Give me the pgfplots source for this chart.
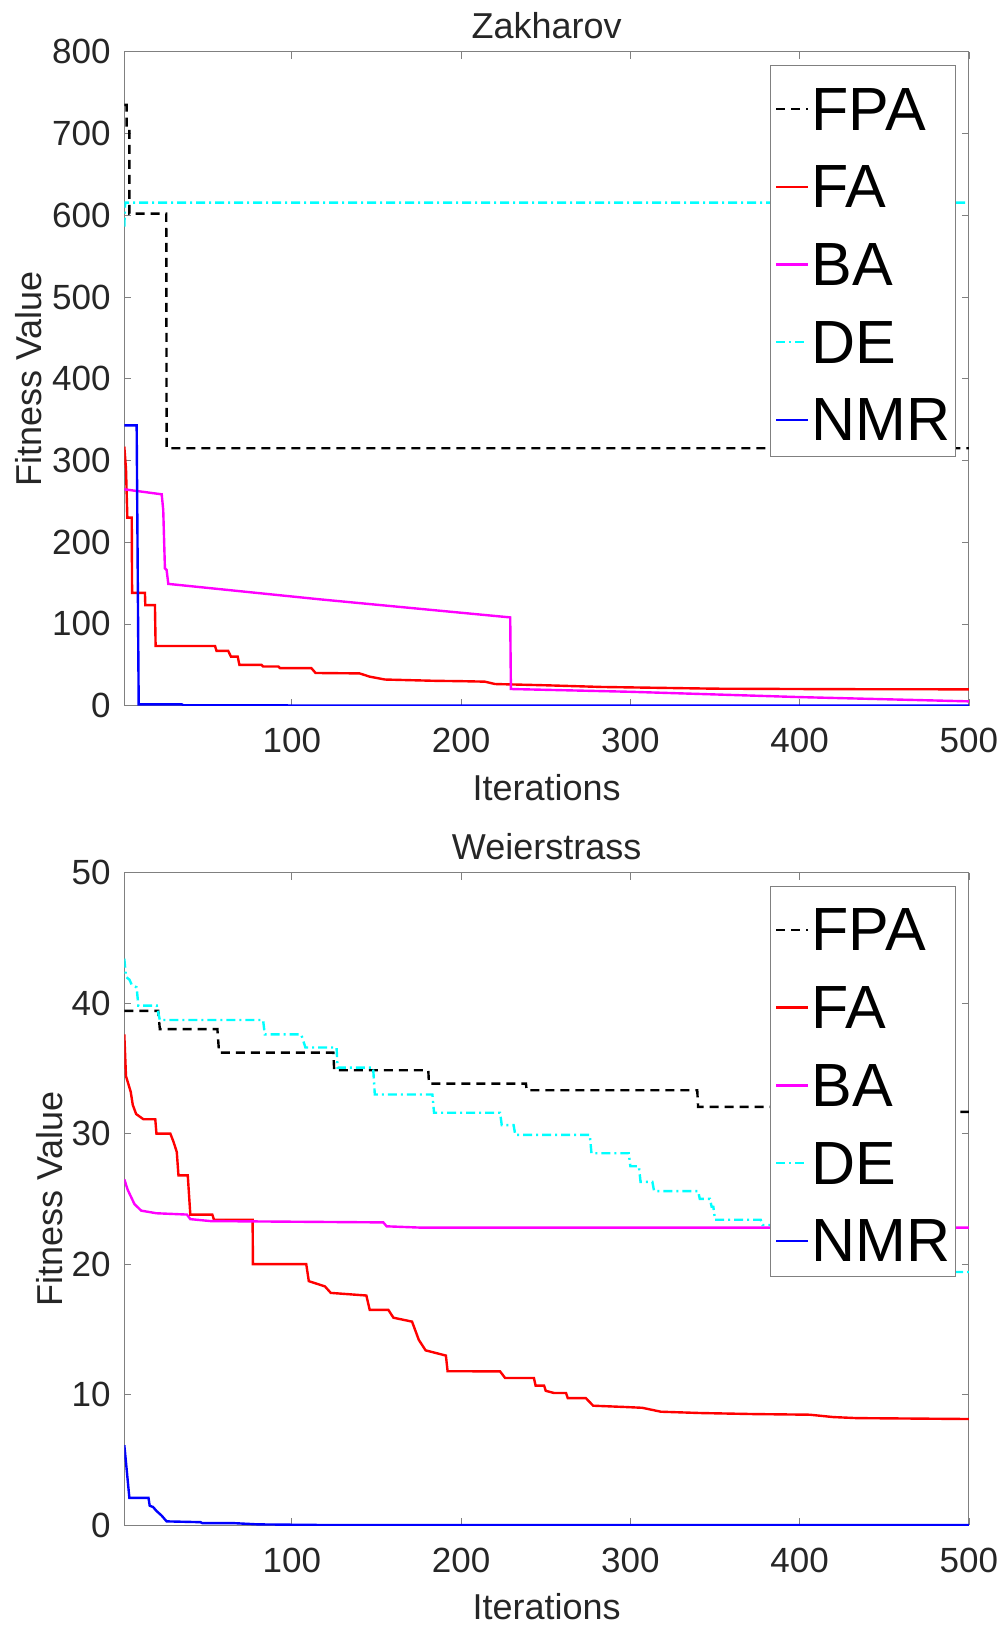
\documentclass[border=0pt]{standalone}
\usepackage{fontspec}
\setmainfont{Liberation Sans}
\usepackage{pgfplots}
\pgfplotsset{compat=1.18}
\definecolor{axgray}{gray}{0.5}
\definecolor{txtgray}{gray}{0.15}
\definecolor{mred}{rgb}{1,0,0}
\definecolor{mmag}{rgb}{1,0,1}
\definecolor{mcyan}{rgb}{0,1,1}
\definecolor{mblue}{rgb}{0,0,1}
\pgfplotsset{
  every axis title shift=0pt,
  mystyle/.style={
    scale only axis, width=422.3pt,
    xmin=1, xmax=500, xtick={100,200,300,400,500},
    tick align=inside, major tick length=3.5pt,
    tick style={axgray, line width=0.4pt},
    axis line style={axgray, line width=0.5pt},
    ticklabel style={font=\fontsize{17.5}{21}\selectfont, text=txtgray, inner sep=0pt},
    xticklabel style={yshift=-11pt},
    yticklabel style={xshift=-6.65pt},
    /pgf/number format/assume math mode=true,
    label style={font=\fontsize{18}{21}\selectfont, text=txtgray, inner sep=0pt},
    title style={font=\fontsize{18}{21}\selectfont, text=txtgray, at={(axis description cs:0.5,1)}, anchor=base, yshift=6.4pt, inner sep=0pt},
    xlabel style={at={(axis description cs:0.5,0)}, anchor=base, yshift=-47.2pt},
    legend style={at={(axis description cs:1,1)}, anchor=north east, xshift=-6.8pt, yshift=-6.65pt,
      draw=axgray, fill=white,
      inner xsep=2.2pt, inner ysep=7.5pt,
      font=\fontsize{30.5}{30.5}\selectfont,
      row sep=14pt, column sep=1.2pt,
      nodes={inner sep=0pt, text height=24.85pt, text depth=0pt},
      cells={anchor=base west}},
    legend image code/.code={\draw[#1] (0pt,10.5pt) -- (15.8pt,10.5pt);},
  },
  fpa/.style={black, line width=1.2pt, dash pattern=on 4.5pt off 3pt},
  fa/.style={mred, line width=1.2pt},
  ba/.style={mmag, line width=1.2pt},
  de/.style={mcyan, line width=1.2pt, dash pattern=on 4.5pt off 2pt on 1pt off 2pt},
  nmr/.style={mblue, line width=1.2pt},
}
\begin{document}
\begin{tikzpicture}[x=1pt,y=1pt]
\path[use as bounding box] (0,0) rectangle (502,812.5);
\begin{axis}[mystyle, height=326.95pt, at={(62.15pt,459.65pt)}, anchor=south west,
  ymin=0, ymax=800, ytick={0,100,...,800},
  title={Zakharov}, xlabel={Iterations}, ylabel={Fitness Value},
  ylabel style={at={(axis description cs:-0.1127,0.5)}, anchor=center}]
\addplot[fpa] coordinates {(1,735) (2.4,735) (2.4,703) (4,703) (4,602) (25.8,602) (26,315) (500,315)};
\addplot[fa] coordinates {(1,317) (2,290) (2.8,230) (5.4,230) (5.6,138) (13.2,138) (13.4,123) (19.1,123) (19.5,73) (54.6,73) (55.5,67) (62.4,67) (64,60) (68,60) (69,50) (82,50) (83,48) (92,48) (93,46) (111.5,46) (114,40) (140,39.5) (146,35.5) (155,32) (185,30.4) (200,30) (214,29.4) (220,26.5) (251,24.9) (283,22.9) (350,20.8) (420,20.2) (500,20)};
\addplot[ba] coordinates {(1,264.7) (23.1,258.6) (24,239.5) (25,168) (26,166) (27,149) (116.6,130.1) (229,108) (229.4,20.4) (300,17) (400,10.5) (500,5.3)};
\addplot[de] coordinates {(1,586) (1.5,615.5) (500,615.5)};
\addplot[nmr] coordinates {(1,343) (8.3,343) (9.5,1.6) (35,1.6) (36,0.3) (500,0.2)};
\legend{FPA,FA,BA,DE,NMR}
\end{axis}
\begin{axis}[mystyle, height=326.4pt, at={(62.15pt,49.85pt)}, anchor=south west,
  ymin=0, ymax=50, ytick={0,10,...,50},
  title={Weierstrass}, xlabel={Iterations}, ylabel={Fitness Value},
  ylabel style={at={(axis description cs:-0.0883,0.5)}, anchor=center}]
\addplot[fpa] coordinates {(1,39.4) (21,39.4) (22,38.0) (56,38.0) (57,36.2) (124.5,36.2) (125,34.85) (180.6,34.85) (181,33.83) (238.3,33.83) (238.7,33.32) (339.5,33.32) (340,32.05) (450,32.05) (450.5,31.67) (500,31.67)};
\addplot[fa] coordinates {(1,37.6) (2,34.4) (4.8,33.2) (6,32.2) (8,31.5) (12.3,31.1) (19.3,31.1) (20,30.0) (28.2,30.0) (30,29.4) (32,28.6) (33,26.8) (38.5,26.8) (40,23.8) (53,23.8) (54,23.4) (76.8,23.4) (77,20.0) (108.5,20.0) (110,18.7) (119.5,18.3) (123,17.8) (144,17.6) (146,16.5) (157,16.5) (160,15.9) (171,15.6) (175,14.2) (179,13.4) (191,13.0) (192,11.8) (223,11.79) (226,11.28) (243,11.28) (244,10.7) (249,10.7) (250,10.3) (255,10.13) (262,10.13) (263,9.74) (273.7,9.74) (278,9.16) (297,9.06) (307,9.0) (318,8.7) (341,8.6) (372.5,8.52) (406,8.47) (419.8,8.29) (433.6,8.21) (500,8.14)};
\addplot[ba] coordinates {(1,26.5) (3,25.7) (7,24.6) (11,24.1) (20,23.9) (38,23.8) (40,23.45) (52,23.3) (154,23.2) (156,22.9) (176,22.8) (500,22.8)};
\addplot[de] coordinates {(1,43.4) (2,42.0) (4,41.8) (5.4,41.4) (8.3,41.2) (9.3,39.8) (20.2,39.8) (22,38.7) (83,38.7) (84,37.6) (105.5,37.6) (108,36.6) (126.4,36.6) (127,35.05) (148,35.05) (149,33.0) (183,33.0) (184,31.6) (223,31.6) (224,30.65) (231,30.65) (232,29.9) (276,29.9) (277,28.5) (299,28.5) (300,27.5) (305,27.5) (306,26.3) (313,26.3) (314,25.6) (340,25.6) (341,25.0) (347,25.0) (348,24.4) (349,24.4) (350,23.4) (377,23.4) (378,23.0) (390,23.0) (391,22.0) (420,22.0) (421,20.5) (450,20.5) (451,19.4) (500,19.4)};
\addplot[nmr] coordinates {(1,6.14) (1.5,5.5) (4,2.1) (15.3,2.1) (16,1.5) (18,1.4) (20,1.1) (23,0.75) (26,0.3) (46,0.24) (47,0.17) (65,0.17) (80,0.07) (120,0.02) (500,0.02)};
\legend{FPA,FA,BA,DE,NMR}
\end{axis}
\end{tikzpicture}
\end{document}
